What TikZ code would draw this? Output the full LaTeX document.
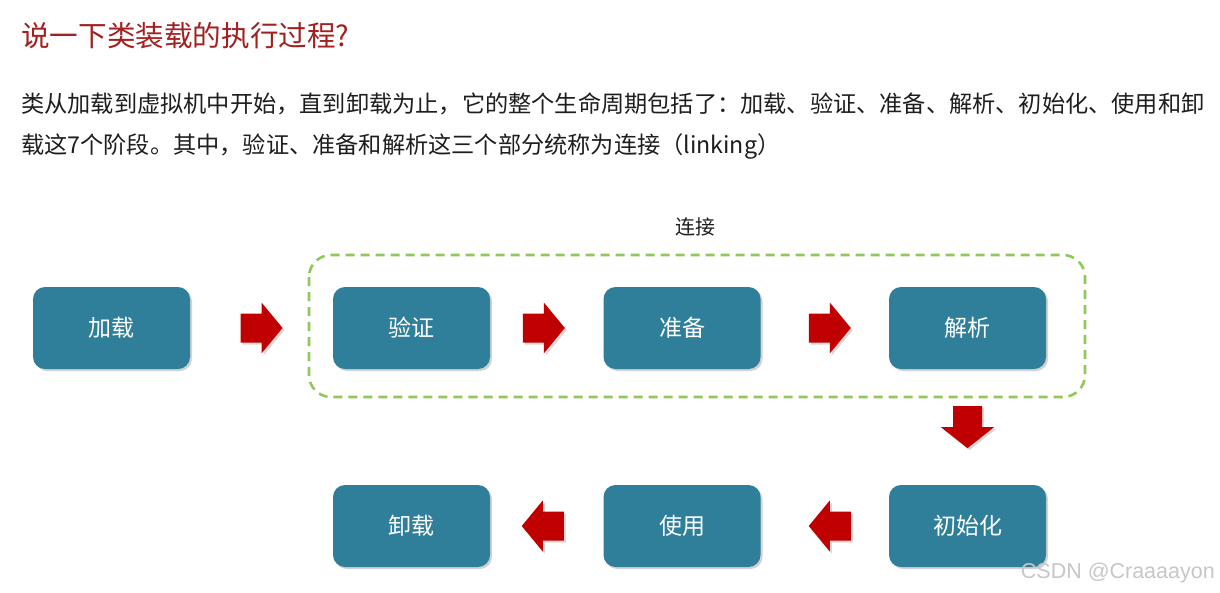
\documentclass[tikz,border=0pt]{standalone}
\usepackage{fontspec}
\setmainfont{Noto Sans CJK SC}
\newfontfamily\wmfont{Liberation Sans}
\usetikzlibrary{shadows,calc}
\definecolor{boxteal}{RGB}{47,127,155}
\definecolor{arrowred}{RGB}{192,0,0}
\definecolor{titlered}{RGB}{163,32,32}
\definecolor{dashgreen}{RGB}{146,200,90}
\definecolor{bodytext}{RGB}{30,30,30}
\tikzset{
  stage/.style={draw=none, fill=boxteal, rounded corners=12pt, minimum width=157pt,
    minimum height=82pt, inner sep=0pt, text=white,
    font=\fontsize{23pt}{26pt}\selectfont,
    drop shadow={opacity=0.35, shadow xshift=2pt, shadow yshift=-2pt}},
  rarrow/.pic={\fill[arrowred, drop shadow={opacity=0.3, shadow xshift=2pt, shadow yshift=-2pt}]
    (-21,-14.5) -- (0,-14.5) -- (0,-25.5) -- (21,0) -- (0,25.5) -- (0,14.5) -- (-21,14.5) -- cycle;},
  larrow/.pic={\fill[arrowred, drop shadow={opacity=0.3, shadow xshift=2pt, shadow yshift=-2pt}]
    (21,-14.5) -- (0,-14.5) -- (0,-25.5) -- (-21,0) -- (0,25.5) -- (0,14.5) -- (21,14.5) -- cycle;},
  darrow/.pic={\fill[arrowred, drop shadow={opacity=0.3, shadow xshift=2pt, shadow yshift=-2pt}]
    (-14.5,-21) -- (-14.5,0) -- (-26.5,0) -- (0,21) -- (26.5,0) -- (14.5,0) -- (14.5,-21) -- cycle;},
  linkbox/.style={draw=dashgreen, line width=2.6pt, dash pattern=on 9pt off 6pt, rounded corners=22pt},
  bodyline/.style={anchor=west, inner sep=0pt, text=bodytext, font=\fontsize{23.2pt}{26pt}\selectfont}
}
\begin{document}
\begin{tikzpicture}[x=1pt, y=-1pt]
\useasboundingbox[fill=white] (0,0) rectangle (1220,592);
% title and text
\node[anchor=west, inner sep=0pt, text=titlered, font=\fontsize{28.6pt}{32pt}\selectfont] (title) at (21,36) {说一下类装载的执行过程?};
\node[bodyline] (line1) at (21,104) {类从加载到虚拟机中开始，直到卸载为止，它的整个生命周期包括了：加载、验证、准备、解析、初始化、使用和卸};
\node[bodyline] (line2) at (21,146) {载这7个阶段。其中，验证、准备和解析这三个部分统称为连接（linking）};
% linking group
\draw[linkbox] (309,255) rectangle (1085,397);
\node[inner sep=0pt, text=bodytext, font=\fontsize{20pt}{24pt}\selectfont] (linklabel) at (695,227) {连接};
% stages
\node[stage] (load)    at (111.5,328) {加载};
\node[stage] (verify)  at (411.5,328) {验证};
\node[stage] (prepare) at (682,328) {准备};
\node[stage] (resolve) at (967.5,328) {解析};
\node[stage] (init)    at (967.5,526) {初始化};
\node[stage] (use)     at (682,526) {使用};
\node[stage] (unload)  at (411.5,526) {卸载};
% block arrows
\pic at ($(load.east)!0.5!(verify.west)$) {rarrow};
\pic at ($(verify.east)!0.5!(prepare.west)+(-3,0)$) {rarrow};
\pic at ($(prepare.east)!0.5!(resolve.west)+(5,0)$) {rarrow};
\pic at ($(resolve.south)+(0,58)$) {darrow};
\pic at ($(use.east)!0.5!(init.west)+(5,0)$) {larrow};
\pic at ($(unload.east)!0.5!(use.west)+(-4,0)$) {larrow};
% watermark
\node[anchor=east, inner sep=0pt, text=black!22, font=\wmfont\fontsize{21.5pt}{24pt}\selectfont] (wm) at (1215,573) {CSDN @Craaaayon};
\end{tikzpicture}
\end{document}
